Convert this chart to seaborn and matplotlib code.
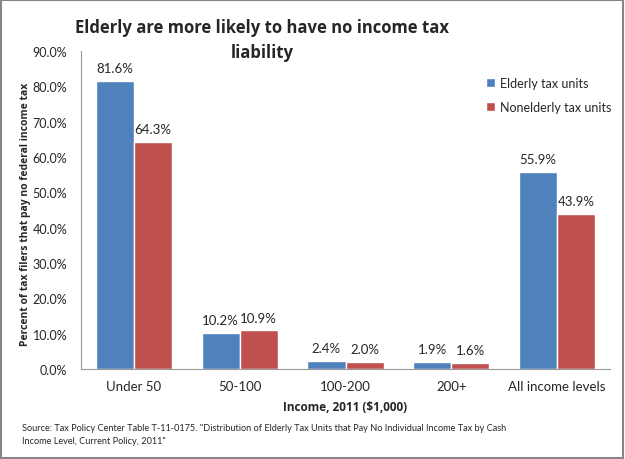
import numpy as np
import pandas as pd
import matplotlib
matplotlib.use("Agg")
import matplotlib.pyplot as plt
import seaborn as sns
from matplotlib.ticker import PercentFormatter

# datos
categorias = ["Under 50", "50-100", "100-200", "200+", "All income levels"]
elderly = [81.6, 10.2, 2.4, 1.9, 55.9]
nonelderly = [64.3, 10.9, 2.0, 1.6, 43.9]
series = ["Elderly tax units", "Nonelderly tax units"]
colores = ["#4F81BD", "#C0504D"]

df = pd.DataFrame({
    "income": categorias * 2,
    "serie": [series[0]] * 5 + [series[1]] * 5,
    "valor": elderly + nonelderly,
})

sns.set_style("white")
plt.rcParams["font.family"] = ["Lato", "DejaVu Sans"]
negrita = ["Open Sans", "DejaVu Sans"]

fig = plt.figure(figsize=(6.25, 4.6), dpi=100)
ax = fig.add_axes([0.1296, 0.1957, 0.8464, 0.691])

sns.barplot(data=df, x="income", y="valor", hue="serie", palette=colores,
            width=0.72, saturation=1, ax=ax, legend=True)

for cont in ax.containers:
    ax.bar_label(cont, fmt="%.1f%%", padding=5, fontsize=9.5)

ax.set_ylim(0, 90)
ax.set_yticks(np.arange(0, 91, 10))
ax.yaxis.set_major_formatter(PercentFormatter(decimals=1))
ax.tick_params(axis="y", labelsize=9, length=0, pad=10)
ax.tick_params(axis="x", labelsize=9.5, length=0, pad=8)
ax.set_xlim(-0.5, 4.5)
for s in ["top", "right"]:
    ax.spines[s].set_visible(False)
ax.spines["left"].set_color("#9a9a9a")
ax.spines["bottom"].set_color("#9a9a9a")

ax.set_xlabel("Income, 2011 ($1,000)", fontsize=8.5, fontweight="bold",
              family=negrita, labelpad=6)
ax.set_ylabel("Percent of tax filers that pay no federal income tax", fontsize=7.5,
              fontweight="bold", family=negrita)
ax.yaxis.set_label_coords(-0.095, 0.49)

leg = ax.legend(loc="upper left", bbox_to_anchor=(0.745, 0.955), frameon=False,
                fontsize=9, handlelength=0.7, handleheight=0.7, labelspacing=0.95,
                handletextpad=0.4)

fig.text(0.419, 0.912, "Elderly are more likely to have no income tax\nliability",
         ha="center", va="center", fontsize=12, fontweight="bold",
         family=negrita, linespacing=1.55)

fig.text(0.035, 0.054, 'Source: Tax Policy Center Table T-11-0175. "Distribution of Elderly Tax Units that Pay No Individual Income Tax by Cash\nIncome Level, Current Policy, 2011"',
         ha="left", va="center", fontsize=6.6, linespacing=1.6)

# borde gris
fig.patches.append(plt.Rectangle((0.002, 0.003), 0.995, 0.994, transform=fig.transFigure,
                                 fill=False, edgecolor="#868686", linewidth=1.5))

fig.savefig("out.png", dpi=100)
plt.close()
